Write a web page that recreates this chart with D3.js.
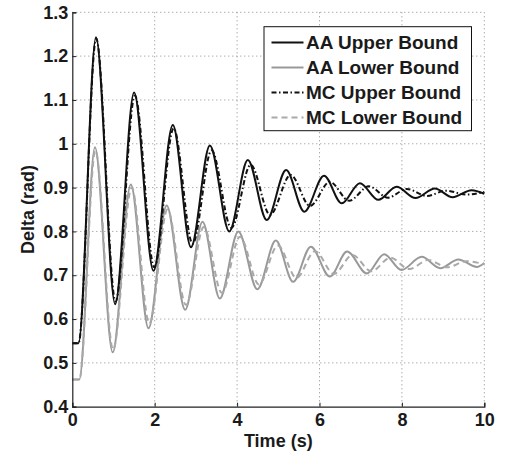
<!DOCTYPE html>
<html>

<head>
	<meta charset="utf-8">
	<script src="https://d3js.org/d3.v7.min.js"></script>
	<style>
		body {
			margin: 0;
			background: white;
		}

		text {
			font-family: Arial, "Liberation Sans", sans-serif;
			font-weight: bold;
			font-stretch: normal;
			fill: #1a1a1a;
		}

		.grid line {
			stroke: #8a8a8a;
			stroke-width: 1;
			stroke-dasharray: 1, 3;
		}

		.curve {
			fill: none;
			stroke-width: 2;
		}
	</style>
</head>

<body>
	<svg></svg>
	<script>
		// values: peaks and troughs of each bound
		var aaUpperT = [0, 0.15, 0.575, 1.04, 1.50, 1.97, 2.44, 2.88, 3.34, 3.81, 4.26, 4.72, 5.19, 5.63, 6.11, 6.54, 6.98, 7.43, 7.87, 8.33, 8.80, 9.23, 9.69, 10];
		var aaUpperV = [0.545, 0.545, 1.243, 0.634, 1.117, 0.710, 1.043, 0.764, 0.996, 0.800, 0.963, 0.826, 0.940, 0.845, 0.927, 0.864, 0.910, 0.872, 0.902, 0.876, 0.898, 0.878, 0.894, 0.886];

		var mcUpperT = [0, 0.15, 0.58, 1.05, 1.52, 1.99, 2.46, 2.92, 3.38, 3.86, 4.33, 4.80, 5.30, 5.77, 6.25, 6.72, 7.20, 7.66, 8.12, 8.60, 9.08, 9.55, 10];
		var mcUpperV = [0.545, 0.545, 1.240, 0.640, 1.110, 0.718, 1.035, 0.772, 0.985, 0.808, 0.952, 0.838, 0.929, 0.858, 0.913, 0.870, 0.903, 0.877, 0.897, 0.881, 0.893, 0.884, 0.890];

		var aaLowerT = [0, 0.17, 0.55, 0.98, 1.42, 1.85, 2.29, 2.74, 3.16, 3.58, 4.03, 4.49, 4.94, 5.36, 5.79, 6.25, 6.67, 7.15, 7.57, 7.99, 8.48, 8.93, 9.37, 9.82, 10];
		var aaLowerV = [0.462, 0.462, 0.992, 0.524, 0.907, 0.579, 0.859, 0.621, 0.822, 0.647, 0.800, 0.668, 0.779, 0.685, 0.765, 0.697, 0.754, 0.704, 0.748, 0.712, 0.742, 0.716, 0.736, 0.719, 0.728];

		var mcLowerT = [0, 0.17, 0.56, 0.99, 1.44, 1.87, 2.31, 2.76, 3.19, 3.63, 4.07, 4.53, 4.99, 5.44, 5.89, 6.35, 6.80, 7.26, 7.72, 8.18, 8.64, 9.10, 9.56, 10];
		var mcLowerV = [0.462, 0.462, 0.985, 0.530, 0.900, 0.590, 0.850, 0.632, 0.810, 0.660, 0.788, 0.679, 0.768, 0.694, 0.755, 0.703, 0.746, 0.709, 0.740, 0.714, 0.735, 0.718, 0.732, 0.725];

		var seriesNames = ["AA Upper Bound", "AA Lower Bound", "MC Upper Bound", "MC Lower Bound"];
		var xTicks = [0, 2, 4, 6, 8, 10];
		var yTicks = [0.4, 0.5, 0.6, 0.7, 0.8, 0.9, 1, 1.1, 1.2, 1.3];

		var width = 509;
		var height = 458;
		var plot = { "left": 72.3, "right": 484.3, "top": 12.3, "bottom": 406.7 };
		var font = "Arial, 'Liberation Sans', sans-serif";

		var svg = d3.select("svg")
			.attr("width", width)
			.attr("height", height);

		var x = d3.scaleLinear().domain([0, 10]).range([plot.left, plot.right]);
		var y = d3.scaleLinear().domain([0.4, 1.3]).range([plot.bottom, plot.top]);

		// dotted grid, top and right edges included (no box)
		var grid = svg.append("g").attr("class", "grid");
		grid.selectAll(".gx")
			.data(xTicks.filter(d => d > 0))
			.enter().append("line")
			.attr("x1", d => x(d)).attr("x2", d => x(d))
			.attr("y1", plot.top).attr("y2", plot.bottom);
		grid.selectAll(".gy")
			.data(yTicks.filter(d => d > 0.4))
			.enter().append("line")
			.attr("x1", plot.left).attr("x2", plot.right)
			.attr("y1", d => y(d)).attr("y2", d => y(d));

		// the four curves
		var styles = [
			{ t: aaUpperT, v: aaUpperV, color: "#111", dash: null },
			{ t: aaLowerT, v: aaLowerV, color: "#999", dash: null },
			{ t: mcUpperT, v: mcUpperV, color: "#111", dash: "5,2.5,1.5,2.5" },
			{ t: mcLowerT, v: mcLowerV, color: "#a9a9a9", dash: "6,4" }
		];
		var line = d3.line()
			.x(d => x(d[0]))
			.y(d => y(d[1]))
			.curve(d3.curveMonotoneX);

		// draw gray under black, dashed on top of solid
		[1, 0, 3, 2].forEach(function (i) {
			var s = styles[i];
			svg.append("path")
				.attr("class", "curve")
				.attr("d", line(s.t.map((t, k) => [t, s.v[k]])))
				.style("stroke", s.color)
				.style("stroke-dasharray", s.dash);
		});

		// axes with inward ticks
		var xAxis = svg.append("g")
			.attr("transform", "translate(0," + plot.bottom + ")")
			.call(d3.axisBottom(x).tickValues(xTicks).tickSize(-4).tickPadding(7).tickFormat(d3.format("~g")));
		var yAxis = svg.append("g")
			.attr("transform", "translate(" + plot.left + ",0)")
			.call(d3.axisLeft(y).tickValues(yTicks).tickSize(-4).tickPadding(4).tickFormat(d3.format("~g")));
		[xAxis, yAxis].forEach(function (a) {
			a.attr("font-family", null).attr("font-size", null);
			a.select(".domain").attr("stroke", "#222").attr("stroke-width", 1.2);
			a.selectAll(".tick line").attr("stroke", "#222");
			a.selectAll("text")
				.style("font-size", "18px")
				.style("font-family", font)
				.style("font-weight", "bold")
				.attr("fill", "#1a1a1a");
		});

		// axis titles
		svg.append("text")
			.attr("x", (plot.left + plot.right) / 2)
			.attr("y", 447)
			.attr("text-anchor", "middle")
			.style("font-size", "18px")
			.text("Time (s)");
		svg.append("text")
			.attr("transform", "translate(34," + (plot.top + plot.bottom) / 2 + ") rotate(-90)")
			.attr("text-anchor", "middle")
			.style("font-size", "18px")
			.text("Delta (rad)");

		// legend
		var legend = svg.append("g");
		legend.append("rect")
			.attr("x", 264).attr("y", 26.7)
			.attr("width", 207.5).attr("height", 104)
			.attr("fill", "white")
			.attr("stroke", "#111")
			.attr("stroke-width", 1);
		var rows = legend.selectAll(".row")
			.data(seriesNames)
			.enter().append("g")
			.attr("transform", (d, i) => "translate(0," + (42.5 + i * 25) + ")");
		rows.append("line")
			.attr("x1", 271.5).attr("x2", 303.5)
			.attr("stroke-width", 2)
			.attr("stroke", (d, i) => styles[i].color)
			.attr("stroke-dasharray", (d, i) => styles[i].dash);
		rows.append("text")
			.attr("x", 306)
			.attr("dy", "0.36em")
			.style("font-size", "19px")
			.text(d => d);
	</script>
</body>

</html>
